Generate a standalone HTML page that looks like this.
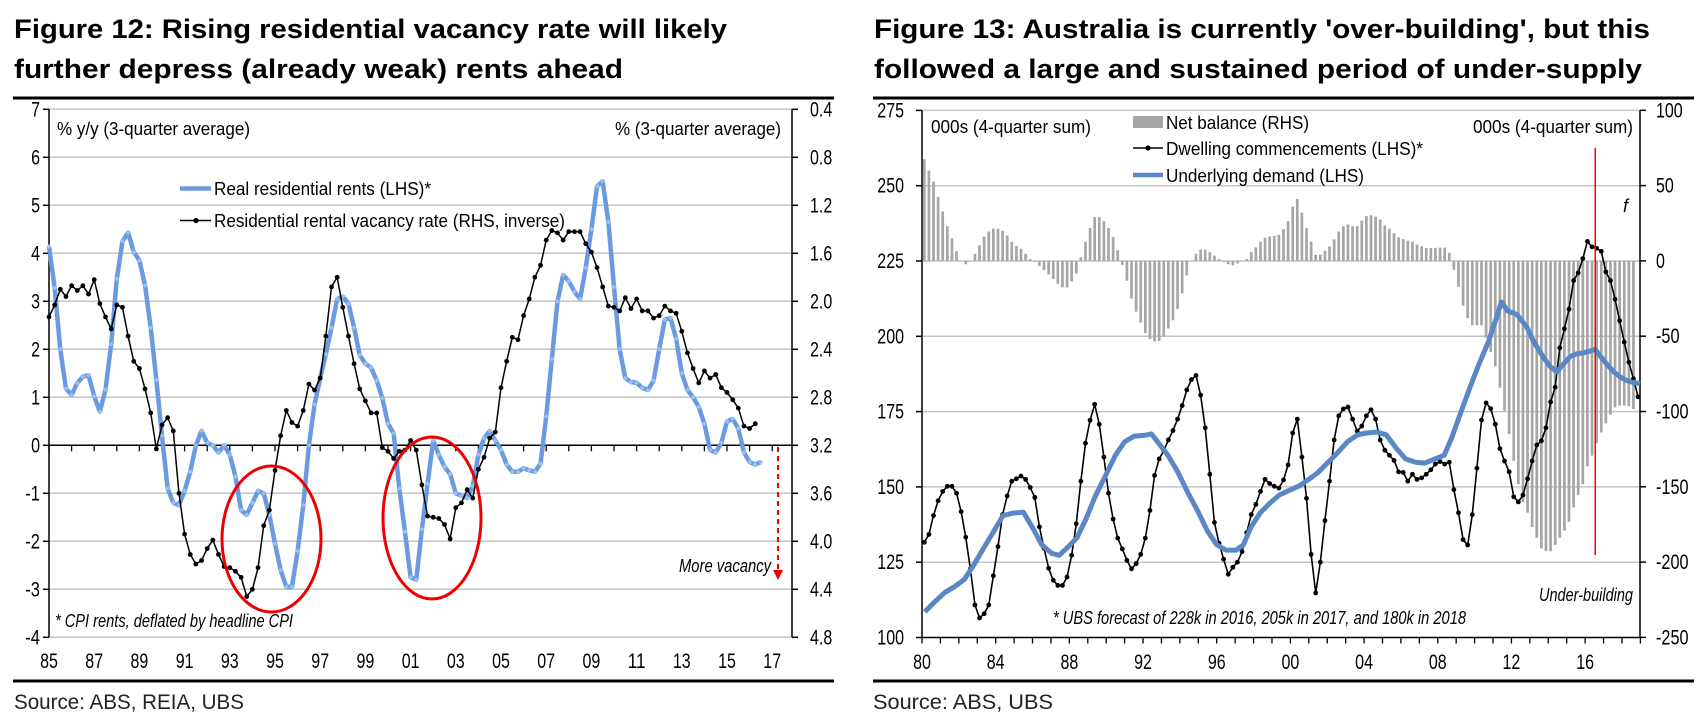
<!DOCTYPE html>
<html><head><meta charset="utf-8"><title>Figures 12 and 13</title>
<style>
html,body{margin:0;padding:0;background:#fff;}
svg{display:block;font-family:"Liberation Sans Narrow","Liberation Sans",Arial,sans-serif;}
</style></head>
<body>
<svg id="root" width="1708" height="728" viewBox="0 0 1708 728" xmlns="http://www.w3.org/2000/svg">
<rect x="0" y="0" width="1708" height="728" fill="#fff"/>
<g font-weight="bold" font-size="27" fill="#000" font-family="Liberation Sans, sans-serif">
<text x="14" y="38" textLength="713" lengthAdjust="spacingAndGlyphs">Figure 12: Rising residential vacancy rate will likely</text>
<text x="14" y="78" textLength="609" lengthAdjust="spacingAndGlyphs">further depress (already weak) rents ahead</text>
<text x="874" y="38" textLength="776" lengthAdjust="spacingAndGlyphs">Figure 13: Australia is currently 'over-building', but this</text>
<text x="874" y="78" textLength="768" lengthAdjust="spacingAndGlyphs">followed a large and sustained period of under-supply</text>
</g>
<rect x="13" y="96.5" width="821" height="3" fill="#000"/>
<rect x="873" y="96.5" width="821" height="3" fill="#000"/>
<rect x="13" y="679.5" width="821" height="3" fill="#000"/>
<rect x="873" y="679.5" width="821" height="3" fill="#000"/>
<text x="14" y="709" font-size="21" fill="#222" font-family="Liberation Sans, sans-serif" textLength="230" lengthAdjust="spacingAndGlyphs">Source: ABS, REIA, UBS</text>
<text x="873" y="709" font-size="21" fill="#222" font-family="Liberation Sans, sans-serif" textLength="180" lengthAdjust="spacingAndGlyphs">Source:  ABS, UBS</text>

<g id="c1"></g>
<g id="c2"></g>

<g font-size="18" fill="#000">
<text x="57" y="135" textLength="193" lengthAdjust="spacingAndGlyphs">% y/y (3-quarter average)</text>
<text x="615" y="135" textLength="166" lengthAdjust="spacingAndGlyphs">% (3-quarter average)</text>
<line x1="180" y1="188.5" x2="211" y2="188.5" stroke="#6a9be0" stroke-width="4.5"/>
<text x="214" y="195" textLength="217" lengthAdjust="spacingAndGlyphs">Real residential rents (LHS)*</text>
<line x1="180" y1="220.5" x2="211" y2="220.5" stroke="#000" stroke-width="1.5"/>
<circle cx="196" cy="220.5" r="2.6" fill="#000"/>
<text x="214" y="227" textLength="351" lengthAdjust="spacingAndGlyphs">Residential rental vacancy rate (RHS, inverse)</text>
<text x="55" y="627" font-style="italic" textLength="238" lengthAdjust="spacingAndGlyphs">* CPI rents, deflated by headline CPI</text>
<text x="679" y="572" font-style="italic" textLength="92" lengthAdjust="spacingAndGlyphs">More vacancy</text>
<line x1="778" y1="447" x2="778" y2="570" stroke="#e00" stroke-width="2" stroke-dasharray="5,4"/>
<polygon points="773,570 783,570 778,580" fill="#e00"/>
<ellipse cx="271.5" cy="539" rx="49.5" ry="73" fill="none" stroke="#e00" stroke-width="3"/>
<ellipse cx="432" cy="518" rx="49" ry="81" fill="none" stroke="#e00" stroke-width="3"/>
</g>

<g font-size="18" fill="#000">
<text x="931" y="133" textLength="160" lengthAdjust="spacingAndGlyphs">000s (4-quarter sum)</text>
<text x="1473" y="133" textLength="160" lengthAdjust="spacingAndGlyphs">000s (4-quarter sum)</text>
<rect x="1133" y="116" width="30" height="12" fill="#a6a6a6"/>
<text x="1166" y="129" textLength="143" lengthAdjust="spacingAndGlyphs">Net balance (RHS)</text>
<line x1="1133" y1="148" x2="1163" y2="148" stroke="#000" stroke-width="1.5"/>
<circle cx="1148" cy="148" r="2.6" fill="#000"/>
<text x="1166" y="155" textLength="257" lengthAdjust="spacingAndGlyphs">Dwelling commencements (LHS)*</text>
<line x1="1133" y1="175" x2="1163" y2="175" stroke="#5a87c5" stroke-width="4.5"/>
<text x="1166" y="182" textLength="198" lengthAdjust="spacingAndGlyphs">Underlying demand (LHS)</text>
<text x="1053" y="624" font-style="italic" textLength="413" lengthAdjust="spacingAndGlyphs">* UBS forecast of 228k in 2016, 205k in 2017, and 180k in 2018</text>
<text x="1539" y="601" font-style="italic" textLength="94" lengthAdjust="spacingAndGlyphs">Under-building</text>
<text x="1623" y="212" font-style="italic">f</text>
</g>
</svg>

<script>
const rentsStart = 1985;
const rentsVals = [4.14,3.28,2.0,1.18,1.05,1.3,1.43,1.46,1.02,0.70,1.16,2.1,3.47,4.25,4.43,4.03,3.85,3.33,2.45,1.36,0.2,-0.9,-1.2,-1.25,-0.95,-0.55,0.0,0.3,0.05,0.0,-0.15,0.0,-0.2,-0.65,-1.35,-1.45,-1.2,-0.95,-1.0,-1.45,-2.05,-2.6,-2.95,-2.95,-2.2,-1.25,0.0,0.85,1.4,1.9,2.45,3.05,3.1,2.95,2.45,1.88,1.7,1.62,1.35,0.98,0.45,0.25,-0.9,-1.8,-2.75,-2.8,-1.75,-0.8,0.1,-0.2,-0.45,-0.6,-1.0,-1.05,-1.1,-0.85,-0.2,0.15,0.3,0.1,-0.1,-0.4,-0.55,-0.55,-0.48,-0.52,-0.55,-0.38,0.6,1.8,3.0,3.55,3.42,3.2,3.05,3.7,4.5,5.4,5.5,4.65,3.3,2.0,1.4,1.32,1.3,1.2,1.15,1.35,2.0,2.62,2.65,2.22,1.5,1.15,1.0,0.8,0.45,-0.1,-0.15,0.05,0.5,0.55,0.35,-0.15,-0.35,-0.4,-0.35];
const vacancyVals = [2.13,2.03,1.90,1.96,1.87,1.91,1.87,1.94,1.82,2.02,2.13,2.23,2.03,2.05,2.29,2.50,2.56,2.73,2.93,3.23,3.03,2.97,3.08,3.60,3.94,4.11,4.19,4.16,4.06,3.99,4.11,4.21,4.22,4.25,4.30,4.46,4.40,4.22,3.87,3.74,3.41,3.12,2.91,3.01,3.04,2.91,2.69,2.74,2.64,2.29,1.88,1.80,2.05,2.29,2.52,2.73,2.83,2.93,2.93,3.22,3.25,3.31,3.25,3.24,3.16,3.24,3.53,3.79,3.80,3.81,3.86,3.98,3.72,3.68,3.57,3.64,3.40,3.30,3.14,3.09,2.72,2.50,2.30,2.32,2.12,1.98,1.80,1.70,1.49,1.41,1.43,1.49,1.42,1.42,1.42,1.52,1.59,1.72,1.88,2.04,2.05,2.08,1.97,2.06,1.98,2.08,2.08,2.14,2.12,2.04,2.08,2.10,2.25,2.43,2.56,2.68,2.58,2.64,2.61,2.72,2.76,2.82,2.89,3.04,3.06,3.02];
const leftTicks1 = [7,6,5,4,3,2,1,0,-1,-2,-3,-4];
const rightTicks1 = ["0.4","0.8","1.2","1.6","2.0","2.4","2.8","3.2","3.6","4.0","4.4","4.8"];
const yearLabels1 = ["85","87","89","91","93","95","97","99","01","03","05","07","09","11","13","15","17"];

const c2Start = 1980.125;
const netBalanceVals = [67.5,60,52.7,42.4,32.8,23,15,6.5,0.2,-2.2,-0.4,4.7,10.4,16.1,19.5,21.4,21.4,20,16.8,12.7,9.9,8.1,4.7,1.2,-0.6,-3.3,-6.1,-9,-12,-15.2,-17.5,-17.7,-13.6,-8.4,2.4,12.7,21.8,29.1,29.1,26.4,21.8,15.9,7,-2.6,-13.2,-25,-33.7,-41,-47.9,-51.8,-53.6,-53.2,-50.2,-44.9,-39.4,-31.9,-21.6,-9.7,0.1,4.7,7.6,7.6,5.8,3.5,1.2,-0.6,-2.2,-2.9,-1.7,0.1,1.2,5.8,9,12.7,15.4,16.1,16.6,17.2,21.1,26.4,36,41.2,32.1,21.8,12.7,4,4.2,6.7,9.5,14.3,19.5,23,24.1,23,23,26.8,29.8,30.3,29.4,27.5,23.6,21.4,18.4,15.6,14.5,13.4,12.7,10.8,9.7,8.6,8.6,8.6,8.8,8.8,5.4,-5.9,-17.3,-29.7,-38,-42.7,-42.7,-42.7,-51,-60.5,-70,-84.2,-99.6,-115,-132.8,-148.3,-160.1,-167.2,-176.7,-183.8,-190.9,-192.8,-192.8,-188.6,-183.8,-179.1,-173.2,-163.7,-155.4,-148.3,-136.4,-129.3,-121,-113.9,-107.9,-102,-97.3,-96.1,-96.1,-96.5,-98.4];
const commencementsVals = [131.6,134.2,140.5,145.4,148.5,150.2,150.2,147.9,141.8,133.3,122.8,110.8,106.5,107.9,110.8,120.5,130.2,140.8,147.0,151.9,152.7,153.6,152.5,149.8,146.5,136.7,129.6,123.0,119.0,117.3,117.3,120.1,127.3,137.8,151.9,164.5,172.1,177.4,170.8,159.9,147.9,139.3,133.0,129.4,125.6,122.8,124.5,127.6,133.0,142.2,153.8,159.3,162.0,165.6,168.7,172.5,177.0,182.2,185.6,187.0,180.5,169.6,154.2,138.2,131.3,126.0,121.0,123.3,125.0,128.5,134.8,140.8,144.2,148.5,152.5,151.1,150.2,149.6,152.3,157.3,167.9,172.5,159.9,146.2,127.6,114.8,125.0,138.8,151.9,165.6,173.6,175.9,176.5,172.5,168.5,170.2,173.6,175.6,172.5,165.6,162.2,160.5,158.8,155.0,154.8,151.9,154.2,152.5,153.0,154.2,155.7,157.6,158.4,157.6,158.2,149.1,141.4,132.5,130.7,140.8,156.2,172.2,177.9,176.0,170.8,162.7,158.6,155.0,146.7,145.0,147.3,152.7,158.6,163.9,165.3,169.6,178.2,183.1,196.2,202.5,209.0,218.5,221.1,225.8,231.5,229.7,229.2,228.2,221.4,218.5,212.3,205.2,198.1,191.4,185.9,179.9];
const demandTimes = [1980.15,1980.7,1981.25,1981.8,1982.3,1982.85,1983.4,1983.9,1984.4,1984.95,1985.5,1986,1986.5,1987.05,1987.45,1987.85,1988.4,1988.9,1989.4,1989.95,1990.5,1991,1991.5,1992.05,1992.45,1992.85,1993.35,1993.9,1994.4,1994.95,1995.5,1996,1996.5,1997.05,1997.45,1997.85,1998.35,1998.9,1999.4,2000,2000.5,2001,2001.5,2002.05,2002.6,2003.1,2003.65,2004.15,2004.7,2005.2,2005.75,2006.25,2006.8,2007.3,2007.85,2008.35,2008.75,2009.15,2009.7,2010.2,2010.75,2011.25,2011.45,2011.8,2012.3,2012.83,2013.2,2013.74,2014.1,2014.46,2014.8,2015.19,2015.55,2015.9,2016.27,2016.54,2016.8,2017.2,2017.55,2017.9,2018.27,2018.6,2018.98];
const demandVals = [108.5,111.9,115,117,119.3,124.5,130.2,135.3,140.5,141.3,141.6,136.5,130.8,127.9,127.3,129.6,133,139.3,146.8,153.6,160.5,165,166.8,167.1,167.6,164.5,160.5,154.8,148.5,142.2,135.3,130.8,129,129,130.8,136.5,141.3,144.7,147.3,149,150.4,152.5,154.8,158.2,161.6,165,167.3,167.9,168.2,167.3,162.8,159.3,158.2,157.9,159.3,160.5,166.2,173,182.2,190.2,198.2,207.3,211.4,208.4,207.2,203.1,198.3,193,190,188.2,190.6,193.3,194.2,194.5,195.1,195.7,193.6,190.6,188.2,186.5,185.3,184.7,184.3];
const leftTicks2 = [275,250,225,200,175,150,125,100];
const rightTicks2 = [100,50,0,-50,-100,-150,-200,-250];
const yearLabels2 = ["80","84","88","92","96","00","04","08","12","16"];
const forecastStart = 2016.55;

const NS = "http://www.w3.org/2000/svg";
function mk(parent, tag, attrs){ const e=document.createElementNS(NS,tag); for(const k in attrs) e.setAttribute(k,attrs[k]); parent.appendChild(e); return e; }
function narrowWidth(s){ let w=0; for(const ch of s){ w += (ch==='.'?4.4:ch==='-'?5.8:8.9); } return w; }
function label(parent, x, y, s, anchor){
  const fs=21; const w=narrowWidth(s);
  let x0 = anchor==='end' ? x-w : anchor==='middle' ? x-w/2 : x;
  const t = mk(parent,'text',{x:x0,y:y,'font-size':fs,textLength:w.toFixed(1),lengthAdjust:'spacingAndGlyphs',fill:'#000'});
  t.textContent = s; return t;
}

const c1 = document.getElementById('c1');
const X1 = t => 49 + (t-1985)*22.6;
const Y1 = v => 445.3 - v*48;
const YR1 = v => 109.3 + (v-0.4)*120;
const c1L = 49, c1R = 792;
leftTicks1.forEach(v=>{
  if(v!==0){
    const g = mk(c1,'line',{x1:c1L,x2:c1R,y1:Y1(v),y2:Y1(v),stroke:'#c4c4c4','stroke-width':1.5});
    
    
  }
  const tk = mk(c1,'line',{x1:c1L-6,x2:c1L,y1:Y1(v),y2:Y1(v),stroke:'#000','stroke-width':1.5});
  
  
  const lb = label(c1, 40, Y1(v)+7, String(v), 'end');
  
  
});
rightTicks1.forEach(s=>{
  const v=parseFloat(s);
  const tk = mk(c1,'line',{x1:c1R,x2:c1R+6,y1:YR1(v),y2:YR1(v),stroke:'#000','stroke-width':1.5});
  
  
  const lb = label(c1, 810, YR1(v)+7, s, 'start');
  
  
});
const zero1 = mk(c1,'line',{x1:c1L,x2:c1R,y1:Y1(0),y2:Y1(0),stroke:'#000','stroke-width':1.5});


for(let yr=1985; yr<=2017; yr++){
  const tk = mk(c1,'line',{x1:X1(yr),x2:X1(yr),y1:Y1(0),y2:Y1(0)+6,stroke:'#000','stroke-width':1.3});
  
  
}
yearLabels1.forEach((s,i)=>{
  const lb = label(c1, X1(1985+2*i), 668, s, 'middle');
  
  
});
const ax1l = mk(c1,'line',{x1:c1L,x2:c1L,y1:Y1(7),y2:Y1(-4),stroke:'#000','stroke-width':1.5});


const ax1r = mk(c1,'line',{x1:c1R,x2:c1R,y1:Y1(7),y2:Y1(-4),stroke:'#000','stroke-width':1.5});



const rentsPts = rentsVals.map((v,i)=>[X1(rentsStart+i*0.25),Y1(v)]);
const rentsLine = mk(c1,'polyline',{points:rentsPts.map(p=>p.join(',')).join(' '),fill:'none',stroke:'#6a9be0','stroke-width':4.5,'stroke-linejoin':'round'});


rentsPts.forEach(p=>{
  const d = mk(c1,'path',{d:`M${p[0]},${p[1]-2.5}l2.5,2.5l-2.5,2.5l-2.5,-2.5z`,fill:'#9cc0ee'});
  
  
});
const vacPts = vacancyVals.map((v,i)=>[X1(rentsStart+i*0.25),YR1(v)]);
const vacLine = mk(c1,'polyline',{points:vacPts.map(p=>p.join(',')).join(' '),fill:'none',stroke:'#000','stroke-width':1.5});


vacPts.forEach(p=>{
  const c = mk(c1,'circle',{cx:p[0],cy:p[1],r:2.4,fill:'#000'});
  
  
});

const c2 = document.getElementById('c2');
const X2 = t => 922 + (t-1980)*18.42;
const Y2 = v => 637.5 - (v-100)*3.012;
const YR2 = v => 110.3 + (100-v)*1.506;
const c2L = 922, c2R = 1640;
leftTicks2.forEach(v=>{
  if(v!==100){
    const g = mk(c2,'line',{x1:c2L,x2:c2R,y1:Y2(v),y2:Y2(v),stroke:'#c4c4c4','stroke-width':1.5});
    
    
  }
  const tk = mk(c2,'line',{x1:c2L-6,x2:c2L,y1:Y2(v),y2:Y2(v),stroke:'#000','stroke-width':1.5});
  
  
  const lb = label(c2, 904, Y2(v)+7, String(v), 'end');
  
  
});
rightTicks2.forEach(v=>{
  const tk = mk(c2,'line',{x1:c2R,x2:c2R+6,y1:YR2(v),y2:YR2(v),stroke:'#000','stroke-width':1.5});
  
  
  const lb = label(c2, 1656, YR2(v)+7, String(v), 'start');
  
  
});
const z0 = YR2(0);
netBalanceVals.forEach((v,i)=>{
  const x = X2(c2Start+i*0.25);
  const y = YR2(v);
  const b = mk(c2,'rect',{x:x-1.35,y:Math.min(y,z0),width:2.7,height:Math.abs(y-z0),fill:'#a6a6a6'});
  
  
});
const axb = mk(c2,'line',{x1:c2L,x2:c2R,y1:Y2(100),y2:Y2(100),stroke:'#000','stroke-width':1.5});


for(let yr=1980; yr<=2019; yr++){
  const tk = mk(c2,'line',{x1:X2(yr),x2:X2(yr),y1:Y2(100),y2:Y2(100)+6,stroke:'#000','stroke-width':1.3});
  
  
}
yearLabels2.forEach((s,i)=>{
  const lb = label(c2, X2(1980+4*i), 669, s, 'middle');
  
  
});
const ax2l = mk(c2,'line',{x1:c2L,x2:c2L,y1:Y2(275),y2:Y2(100),stroke:'#000','stroke-width':1.5});


const ax2r = mk(c2,'line',{x1:c2R,x2:c2R,y1:Y2(275),y2:Y2(100),stroke:'#000','stroke-width':1.5});



const comPts = commencementsVals.map((v,i)=>[X2(c2Start+i*0.25),Y2(v)]);
const comLine = mk(c2,'polyline',{points:comPts.map(p=>p.join(',')).join(' '),fill:'none',stroke:'#000','stroke-width':1.6});


comPts.forEach(p=>{
  const c = mk(c2,'circle',{cx:p[0],cy:p[1],r:2.4,fill:'#000'});
  
  
});
const n = Math.min(demandTimes.length, demandVals.length);
const demPts = [];
for(let i=0;i<n;i++) demPts.push([X2(demandTimes[i]),Y2(demandVals[i])]);
const demLine = mk(c2,'polyline',{points:demPts.map(p=>p.join(',')).join(' '),fill:'none',stroke:'#5a87c5','stroke-width':5,'stroke-linejoin':'round'});



const fl = mk(c2,'line',{x1:X2(forecastStart),x2:X2(forecastStart),y1:148,y2:555,stroke:'#f00','stroke-width':1.5});


</script>
</body></html>
